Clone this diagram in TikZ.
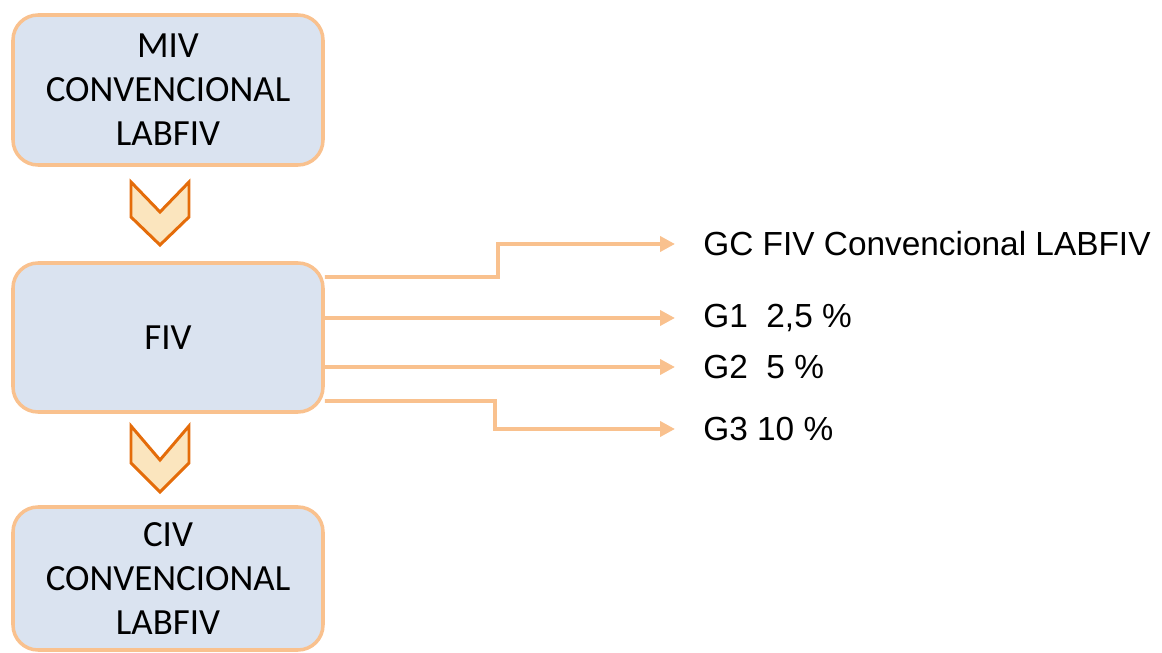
\documentclass[tikz,border=0pt]{standalone}
\usepackage{fontspec}
\setmainfont{Carlito}
\newfontfamily\labelfont{Liberation Sans}
\usetikzlibrary{arrows.meta,calc}

\definecolor{boxfill}{HTML}{DAE3F0}
\definecolor{boxline}{HTML}{F9C18E}
\definecolor{chevfill}{HTML}{FBE5BE}
\definecolor{chevline}{HTML}{E46C0A}

\tikzset{
  stagebox/.style={draw=boxline, fill=boxfill, line width=2pt,
    rounded corners=0.5cm, minimum width=6.2cm, align=center,
    font=\fontsize{21}{25}\selectfont},
  grouplabel/.style={anchor=west, inner sep=0pt, font=\labelfont\fontsize{19}{23}\selectfont},
  connector/.style={draw=boxline, line width=2.2pt,
    -{Triangle[length=0.3cm,width=0.3cm]}, shorten >=0.56cm},
  chevron/.style={draw=chevline, fill=chevfill, line width=1.7pt, line join=miter}
}

\begin{document}
\begin{tikzpicture}
    \useasboundingbox (0,0) rectangle (23.24,-13.06);
    \node[stagebox, minimum height=3cm] (MIV) at (3.36,-1.8) {MIV\\CONVENCIONAL\\LABFIV};
    \node[stagebox, minimum height=2.98cm] (FIV) at (3.36,-6.75) {FIV};
    \node[stagebox, minimum height=2.86cm] (CIV) at (3.36,-11.57) {CIV\\CONVENCIONAL\\LABFIV};
    % chevrons between the stages
    \draw[chevron] (2.62,-3.64) -- (3.2,-4.24) -- (3.78,-3.64) -- (3.78,-4.34) -- (3.2,-4.9) -- (2.62,-4.34) -- cycle;
    \draw[chevron] (2.62,-8.52) -- (3.2,-9.2) -- (3.78,-8.52) -- (3.78,-9.26) -- (3.2,-9.84) -- (2.62,-9.26) -- cycle;
    % groups
    \node[grouplabel] (GC) at (14.06,-4.88) {GC FIV Convencional LABFIV};
    \node[grouplabel] (G1) at (14.06,-6.36) {G1\ \ 2,5 \%};
    \node[grouplabel] (G2) at (14.06,-7.34) {G2\ \ 5 \%};
    \node[grouplabel] (G3) at (14.06,-8.58) {G3 10 \%};
    \draw[connector] ([yshift=1.21cm]FIV.east) -- (9.96,-5.54) |- (GC.west);
    \draw[connector] (FIV.east |- G1.west) -- (G1.west);
    \draw[connector] (FIV.east |- G2.west) -- (G2.west);
    \draw[connector] ([yshift=-1.27cm]FIV.east) -- (9.9,-8.02) |- (G3.west);
\end{tikzpicture}
\end{document}
